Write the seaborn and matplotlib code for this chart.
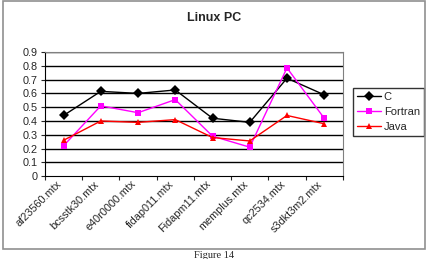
import pandas as pd
import matplotlib.pyplot as plt
import seaborn as sns
from matplotlib.patches import Rectangle

# data
matrices = ['af23560.mtx', 'bcsstk30.mtx', 'e40r0000.mtx', 'fidap011.mtx',
            'Fidapm11.mtx', 'memplus.mtx', 'qc2534.mtx', 's3dkt3m2.mtx']
c_vals = [0.44, 0.615, 0.60, 0.625, 0.42, 0.39, 0.71, 0.59]
fortran_vals = [0.22, 0.51, 0.46, 0.555, 0.29, 0.21, 0.785, 0.42]
java_vals = [0.26, 0.40, 0.39, 0.41, 0.28, 0.255, 0.44, 0.38]
languages = ['C', 'Fortran', 'Java']


def main():
    sns.set_style('white')
    plt.rcParams['font.family'] = ['Liberation Sans', 'DejaVu Sans']

    df = pd.DataFrame({
        'x': list(range(len(matrices))) * 3,
        'value': c_vals + fortran_vals + java_vals,
        'lang': sum([[l] * len(matrices) for l in languages], []),
    })

    fig = plt.figure(figsize=(4.28, 2.59), dpi=100)
    ax = fig.add_axes([0.105, 0.320, 0.696, 0.479])

    # outer chart border
    fig.patches.append(Rectangle((0.006, 0.04), 0.988, 0.955, transform=fig.transFigure,
                                 fill=False, edgecolor='#909090', linewidth=1.2))

    for y in [0.1 * i for i in range(1, 10)]:
        ax.axhline(y, color='black', linewidth=1.0, zorder=0)

    sns.lineplot(data=df, x='x', y='value', hue='lang', style='lang',
                 palette={'C': 'black', 'Fortran': '#ff00ff', 'Java': '#ff0000'},
                 markers={'C': 'D', 'Fortran': 's', 'Java': '^'},
                 dashes=False, markersize=5, linewidth=1, markeredgewidth=0,
                 ax=ax)

    ax.set_xlim(-0.5, len(matrices) - 0.5)
    ax.set_ylim(0, 0.9)
    ax.set_yticks([0.1 * i for i in range(10)])
    ax.set_yticklabels(['0'] + ['%.1f' % (0.1 * i) for i in range(1, 10)], fontsize=7.8)
    ax.set_xticks([i - 0.5 for i in range(len(matrices) + 1)], minor=False)
    ax.set_xticklabels([])
    ax.set_xticks(range(len(matrices)), minor=True)
    ax.set_xticklabels(matrices, minor=True, rotation=45, ha='right', fontsize=7.8)
    ax.tick_params(axis='x', which='minor', length=0, pad=2)
    ax.tick_params(axis='x', which='major', length=3, width=0.8, direction='out', bottom=True)
    ax.tick_params(axis='y', length=3, width=0.8, direction='out', left=True, pad=2)
    ax.set_xlabel('')
    ax.set_ylabel('')
    for s in ['top', 'right']:
        ax.spines[s].set_color('#808080')
        ax.spines[s].set_linewidth(0.8)
    for s in ['left', 'bottom']:
        ax.spines[s].set_color('black')
        ax.spines[s].set_linewidth(0.8)

    handles, labels = ax.get_legend_handles_labels()
    ax.legend(handles, labels, loc='upper left', bbox_to_anchor=(0.825, 0.66),
              bbox_transform=fig.transFigure, fontsize=8, frameon=True, fancybox=False,
              edgecolor='black', borderaxespad=0, handlelength=2.2, handletextpad=0.2,
              borderpad=0.35, labelspacing=0.45)
    ax.get_legend().get_frame().set_linewidth(1)

    fig.text(0.5, 0.93, 'Linux PC', ha='center', va='center', fontsize=9, fontweight='bold')
    fig.text(0.5, 0.014, 'Figure 14', ha='center', va='center', fontsize=7.5,
             family=['Liberation Serif', 'DejaVu Serif'])

    plt.savefig('out.png', dpi=100)


if __name__ == '__main__':
    main()
